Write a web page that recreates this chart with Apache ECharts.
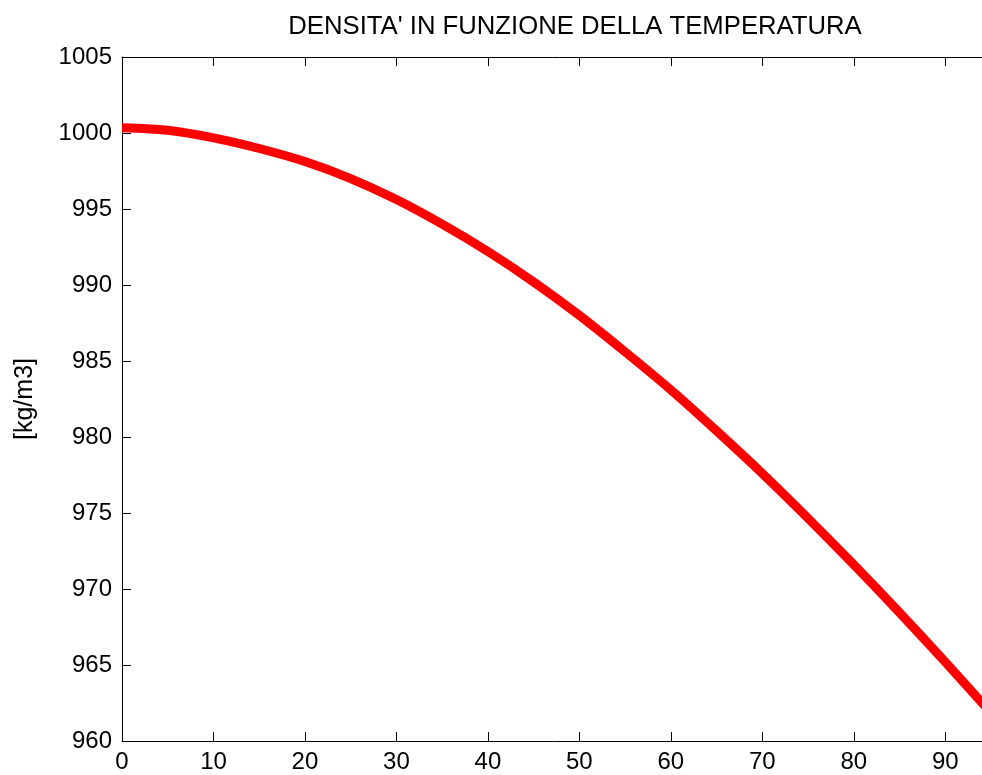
<!DOCTYPE html>
<html>
<head>
<meta charset="utf-8">
<script src="https://cdn.jsdelivr.net/npm/echarts@6/dist/echarts.min.js"></script>
<style>
  html, body { margin: 0; padding: 0; background: #fff; }
  #chart { width: 982px; height: 775px; }
</style>
</head>
<body>
<div id="chart"></div>
<script>
// Water density versus temperature
const titleText = "DENSITA' IN FUNZIONE DELLA TEMPERATURA";
const yAxisLabel = '[kg/m3]';
const temperature = [0, 5, 10, 15, 20, 25, 30, 35, 40, 45, 50, 55, 60, 65, 70, 75, 80, 85, 90, 95];
const density = [1000.35, 1000.18, 999.68, 998.98, 998.12, 997.0, 995.62, 994.0, 992.2, 990.2,
                 988.0, 985.6, 983.1, 980.4, 977.6, 974.65, 971.6, 968.45, 965.2, 961.85];
const xRange = [0, 95];
const yRange = [960, 1005];

const FONT = '"Liberation Sans", Arial, sans-serif';
const axisColor = '#000';

const chart = echarts.init(document.getElementById('chart'));

const baseX = {
  type: 'value', min: xRange[0], max: xRange[1], interval: 10,
  axisLine: { show: true, onZero: false, lineStyle: { color: axisColor, width: 1 } },
  axisTick: { show: true, inside: true, length: 9, lineStyle: { color: axisColor, width: 1 } },
  splitLine: { show: false }
};
const baseY = {
  type: 'value', min: yRange[0], max: yRange[1], interval: 5,
  axisLine: { show: true, onZero: false, lineStyle: { color: axisColor, width: 1 } },
  axisTick: { show: true, inside: true, length: 9, lineStyle: { color: axisColor, width: 1 } },
  splitLine: { show: false }
};

chart.setOption({
  animation: false,
  backgroundColor: '#fff',
  title: {
    text: titleText,
    left: 570, top: 9, textAlign: 'center',
    textStyle: { fontFamily: FONT, fontSize: 25.7, fontWeight: 'normal', color: '#000' }
  },
  grid: { left: 122, top: 57, right: -9, bottom: 34, outerBoundsMode: 'none', containLabel: false },
  xAxis: [
    Object.assign({}, baseX, {
      position: 'bottom',
      axisLabel: {
        show: true, margin: 9, fontFamily: FONT, fontSize: 24, color: '#000',
        showMaxLabel: false,
        formatter: v => (v % 10 === 0 ? String(v) : '')
      }
    }),
    Object.assign({}, baseX, { position: 'top', axisLabel: { show: false } })
  ],
  yAxis: [
    Object.assign({}, baseY, {
      position: 'left',
      name: yAxisLabel, nameLocation: 'middle', nameGap: 84, nameRotate: 90,
      nameTextStyle: { fontFamily: FONT, fontSize: 25, color: '#000' },
      axisLabel: {
        show: true, margin: 10, fontFamily: FONT, fontSize: 24, color: '#000',
        formatter: v => String(v)
      }
    }),
    Object.assign({}, baseY, { position: 'right', axisLabel: { show: false } })
  ],
  series: [{
    type: 'line',
    xAxisIndex: 0, yAxisIndex: 0,
    data: temperature.map((t, i) => [t, density[i]]),
    smooth: 0.3,
    showSymbol: false,
    lineStyle: { color: '#ff0000', width: 9 },
    clip: true
  }]
});
</script>
</body>
</html>
